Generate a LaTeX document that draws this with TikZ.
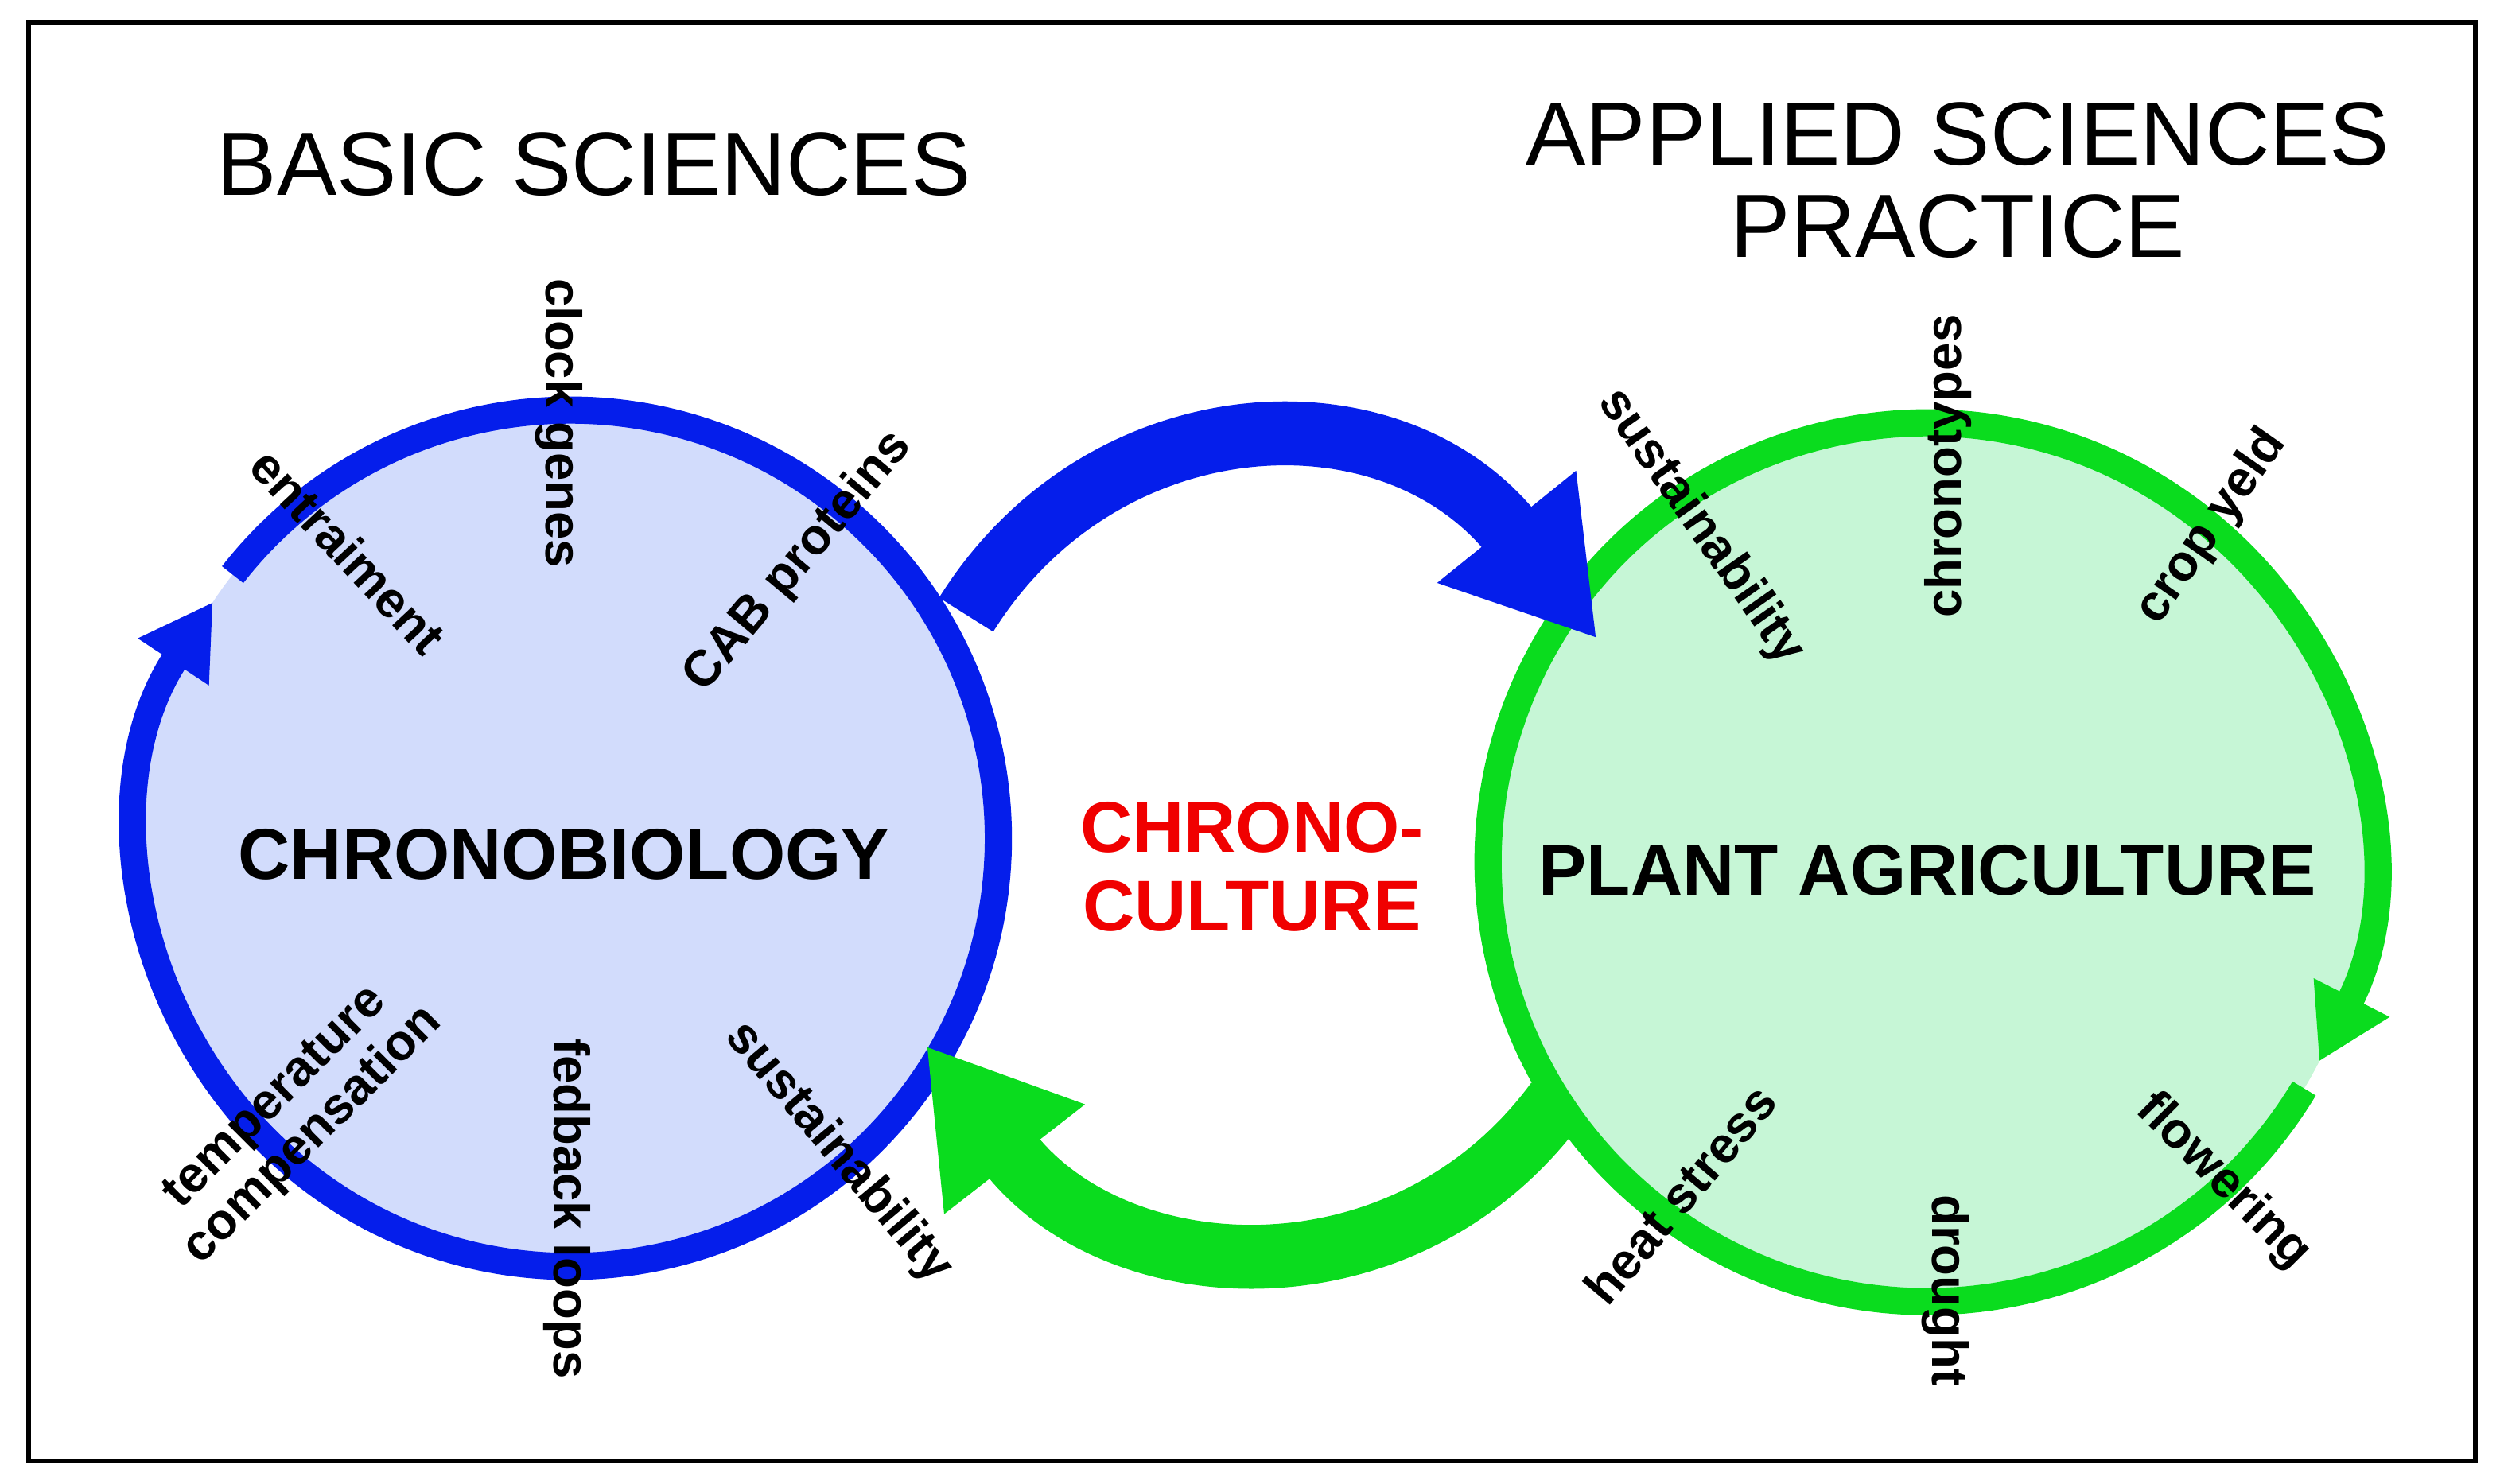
\documentclass[tikz,border=0pt]{standalone}
\usepackage{fontspec}
\setmainfont{Liberation Sans}
\usetikzlibrary{arrows.meta}
\definecolor{cblue}{RGB}{5,30,235}
\definecolor{cgreen}{RGB}{10,220,30}
\definecolor{lblue}{RGB}{210,220,252}
\definecolor{lgreen}{RGB}{198,246,214}
\definecolor{cred}{RGB}{240,0,0}
\tikzset{
 lab/.style={font=\fontsize{9pt}{9.5pt}\selectfont\bfseries, align=center},
 title/.style={font=\fontsize{16pt}{16.5pt}\selectfont, align=center},
 big/.style={font=\fontsize{12.8pt}{14pt}\selectfont\bfseries, align=center},
 ring/.style={line width=0.17cm, -{Triangle[length=0.45cm,width=0.5cm]}},
 bridge/.style={line width=0.4cm, -{Triangle[length=0.9cm,width=1.05cm]}},
}
\begin{document}
\begin{tikzpicture}[x=0.01cm,y=0.01cm]
\useasboundingbox (0,0) rectangle (1568,929);
\draw[line width=0.8pt] (18,14) rectangle (1550,915);
\node[circle,fill=lblue,minimum size=5.36cm,inner sep=0] (cl) at (357,404) {};
\node[circle,fill=lgreen,minimum size=5.5cm,inner sep=0] (cr) at (1207,389) {};
\draw[ring,cblue] (cl.center) ++(142:2.68cm) arc[start angle=142,end angle=-213.5,radius=2.68cm];
\draw[ring,cgreen] (cr.center) ++(-31:2.75cm) arc[start angle=-31,end angle=-387,radius=2.75cm];
\coordinate (b1) at (605,544); \coordinate (b2) at (1000,529);
\coordinate (g1) at (975,239); \coordinate (g2) at (580,274);
\draw[bridge,cblue] (b1) .. controls (690,680) and (870,690) .. (b2);
\draw[bridge,cgreen] (g1) .. controls (880,110) and (700,120) .. (g2);
\node[title] (t1) at (372,826) {BASIC SCIENCES};
\node[title] (t2) at (1226,816) {APPLIED SCIENCES\\PRACTICE};
\node[big] (n1) at (353,394) {CHRONOBIOLOGY};
\node[big] (n2) at (1207,384) {PLANT AGRICULTURE};
\node[big,text=cred] (n3) at (784,386) {CHRONO-\\CULTURE};
\node[lab,rotate=-90] (a1) at (350,664) {clock genes};
\node[lab,rotate=-47] (a2) at (218,584) {entraiment};
\node[lab,rotate=50] (a3) at (500,577) {CAB proteins};
\node[lab,rotate=45] (a4) at (185,229) {temperature\\compensation};
\node[lab,rotate=-90] (a5) at (355,172) {fedback loops};
\node[lab,rotate=-50] (a6) at (525,207) {sustainability};
\node[lab,rotate=-55] (b3) at (1065,599) {sustainability};
\node[lab,rotate=90] (b4) at (1220,637) {chronotypes};
\node[lab,rotate=55] (b5) at (1385,599) {crop yeld};
\node[lab,rotate=50] (b6) at (1052,181) {heat stress};
\node[lab,rotate=-90] (b7) at (1218,121) {drought};
\node[lab,rotate=-45] (b8) at (1392,189) {flowering};
\end{tikzpicture}
\end{document}
